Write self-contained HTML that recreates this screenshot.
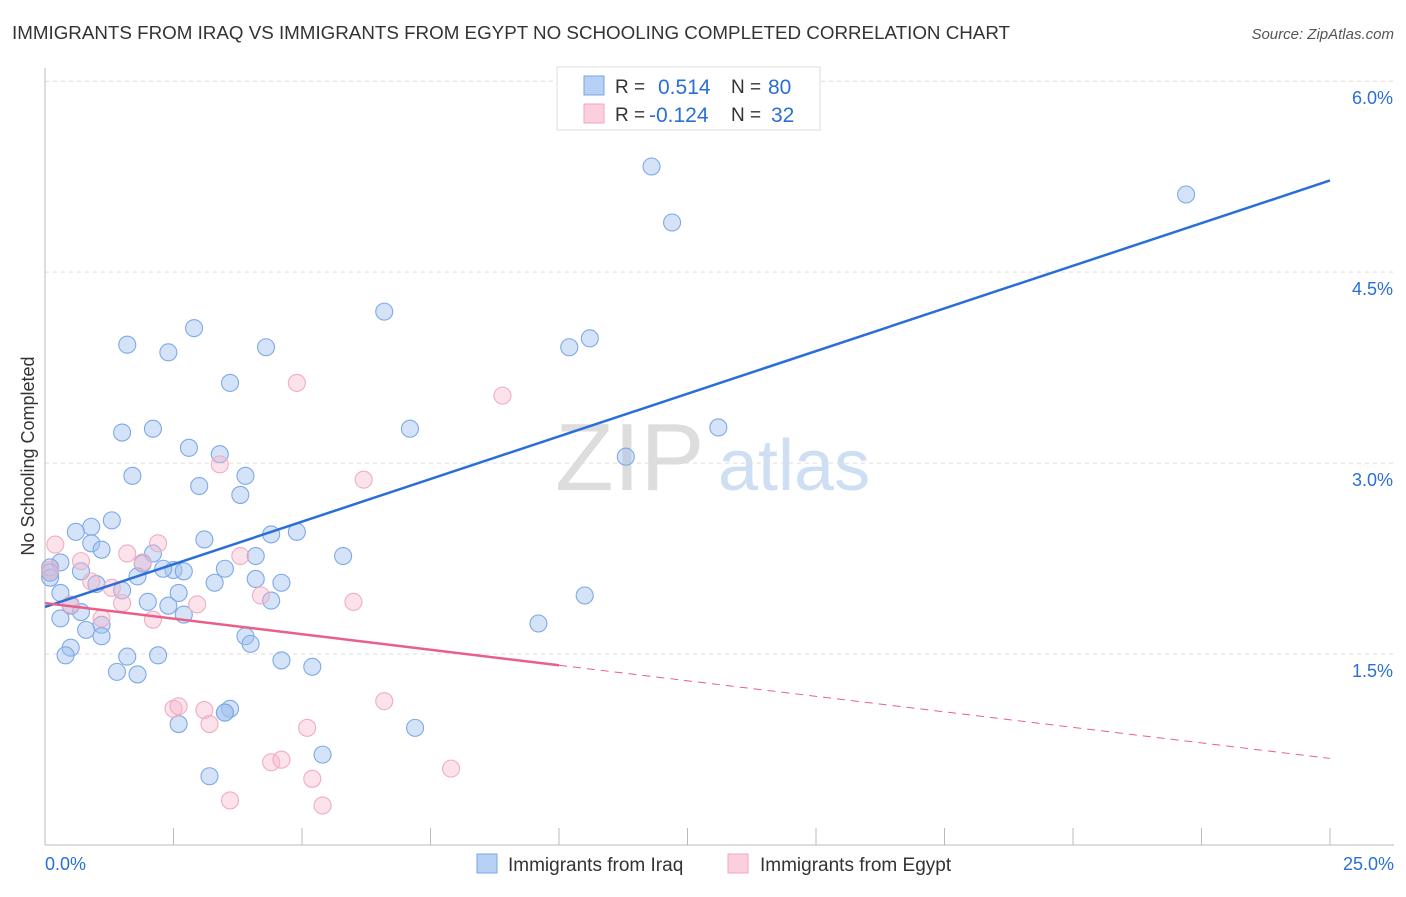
<!DOCTYPE html>
<html><head><meta charset="utf-8"><style>
body{margin:0;background:#fff;font-family:"Liberation Sans",sans-serif;}
svg text{font-family:"Liberation Sans",sans-serif;}
</style></head><body>
<svg id="c" width="1406" height="892">
<text x="12" y="39" font-size="18" fill="#333" textLength="998" lengthAdjust="spacingAndGlyphs">IMMIGRANTS FROM IRAQ VS IMMIGRANTS FROM EGYPT NO SCHOOLING COMPLETED CORRELATION CHART</text>
<text x="1394" y="39" font-size="15" fill="#555" font-style="italic" text-anchor="end">Source: ZipAtlas.com</text>
<text x="0" y="0" transform="translate(34,456) rotate(-90)" font-size="18" fill="#333" text-anchor="middle">No Schooling Completed</text>
<text x="555" y="490" font-size="96" fill="#ddd" font-family="Liberation Serif">ZIP</text>
<text x="718" y="490" font-size="72" fill="#cfdff3">atlas</text>
<g id="grid"></g><g id="axes"></g><g id="pts"></g><g id="lines"></g>
<g>
<rect x="557" y="67" width="263" height="63" fill="#fff" stroke="#ddd"/>
<rect x="584" y="76" width="20" height="19" fill="#b7d0f5" stroke="#7aa6e6"/>
<rect x="584" y="104" width="20" height="19" fill="#fbd0dc" stroke="#f0a6bc"/>
<text x="615" y="93" font-size="19" fill="#333">R =</text>
<text x="658" y="94" font-size="21" fill="#2a6fd6">0.514</text>
<text x="731" y="93" font-size="19" fill="#333">N =</text>
<text x="768" y="94" font-size="21" fill="#2a6fd6">80</text>
<text x="615" y="121" font-size="19" fill="#333">R =</text>
<text x="649" y="122" font-size="21" fill="#2a6fd6">-0.124</text>
<text x="731" y="121" font-size="19" fill="#333">N =</text>
<text x="771" y="122" font-size="21" fill="#2a6fd6">32</text>
</g>
<g>
<rect x="477" y="854" width="20" height="19" fill="#b7d0f5" stroke="#7aa6e6"/>
<text x="508" y="871" font-size="19" fill="#333">Immigrants from Iraq</text>
<rect x="728" y="854" width="20" height="19" fill="#fbd0dc" stroke="#f0a6bc"/>
<text x="760" y="871" font-size="19" fill="#333">Immigrants from Egypt</text>
</g>
</svg>
<script>
const yTicks=[1.5,3.0,4.5,6.0];
const xTickLabels=["0.0%","25.0%"];
const iraqX=[11.8,22.2,12.2,6.6,2.9,10.6,1.6,4.3,10.2,2.4,3.6,7.1,13.1,1.5,2.1,2.8,3.4,11.3,1.7,3.9,3.0,3.8,1.3,0.9,0.6,4.4,4.9,3.1,0.9,1.1,2.1,4.1,5.8,0.3,1.9,0.1,2.5,2.3,2.7,3.5,0.7,1.8,0.1,3.3,4.1,4.6,1.0,1.5,2.6,0.3,4.4,2.0,2.4,0.5,0.7,2.7,0.3,1.1,9.6,0.8,1.1,3.9,4.0,0.5,0.4,1.6,2.2,4.6,5.2,1.4,1.8,3.6,3.5,2.6,7.2,5.4,3.2,10.5,0.1,3.5];
const iraqY=[5.33,5.11,4.89,4.19,4.06,3.98,3.93,3.91,3.91,3.87,3.63,3.27,3.28,3.24,3.27,3.12,3.07,3.05,2.90,2.90,2.82,2.75,2.55,2.50,2.46,2.44,2.46,2.40,2.37,2.32,2.29,2.27,2.27,2.22,2.21,2.18,2.16,2.17,2.15,2.17,2.15,2.11,2.10,2.06,2.09,2.06,2.05,2.00,1.98,1.98,1.92,1.91,1.88,1.88,1.83,1.81,1.78,1.73,1.74,1.69,1.64,1.64,1.58,1.55,1.49,1.48,1.49,1.45,1.40,1.36,1.34,1.07,1.04,0.95,0.92,0.71,0.54,1.96,2.14,1.04];
const egyptX=[4.9,8.9,3.4,6.2,0.2,2.2,1.6,3.8,0.7,1.9,0.9,1.3,4.2,6.0,2.96,1.5,0.5,1.1,2.1,0.1,6.6,2.5,2.6,3.1,3.2,5.1,4.4,4.6,7.9,5.2,3.6,5.4];
const egyptY=[3.63,3.53,2.99,2.87,2.36,2.37,2.29,2.27,2.23,2.22,2.07,2.02,1.96,1.91,1.89,1.90,1.89,1.78,1.77,2.16,1.13,1.07,1.09,1.06,0.95,0.92,0.65,0.67,0.60,0.52,0.35,0.31];
const iraqTrend=[1.87,5.22];
const egyptTrend=[1.90,0.68];
const egyptSolidEnd=10.0;
const X=v=>45+v/25*1285, Y=v=>845-v*127.3;
const NS="http://www.w3.org/2000/svg";
function mk(t,a,p){const e=document.createElementNS(NS,t);for(const k in a)e.setAttribute(k,a[k]);p.appendChild(e);return e;}
const grid=document.getElementById('grid'),axes=document.getElementById('axes'),pts=document.getElementById('pts'),lines=document.getElementById('lines');
yTicks.forEach(t=>{
 const g=mk('line',{x1:45,x2:1394,y1:Y(t),y2:Y(t),stroke:'#ddd','stroke-dasharray':'4,4'},grid);
 
 
 const l=mk('text',{x:1393,y:Y(t)+23,'font-size':18,fill:'#2a6fd6','text-anchor':'end'},axes);
 l.textContent=t.toFixed(1)+'%';
 
 
});
const ax=mk('line',{x1:45,x2:45,y1:68,y2:845,stroke:'#bbb'},axes);


const bx=mk('line',{x1:45,x2:1394,y1:845,y2:845,stroke:'#bbb'},axes);


for(let i=0;i<=10;i++){const v=i*2.5;const tk=mk('line',{x1:X(v),x2:X(v),y1:828,y2:845,stroke:'#bbb'},axes);
 
 }
const xl0=mk('text',{x:45,y:870,'font-size':18,fill:'#2a6fd6'},axes);xl0.textContent=xTickLabels[0];


const xl1=mk('text',{x:1394,y:870,'font-size':18,fill:'#2a6fd6','text-anchor':'end'},axes);xl1.textContent=xTickLabels[1];


iraqX.forEach((v,i)=>{const c=mk('circle',{cx:X(v),cy:Y(iraqY[i]),r:8.5,fill:'rgba(160,192,240,0.45)',stroke:'#7ea9e6','stroke-width':1.1},pts);
 
 });
egyptX.forEach((v,i)=>{const c=mk('circle',{cx:X(v),cy:Y(egyptY[i]),r:8.5,fill:'rgba(248,182,202,0.4)',stroke:'#f0adc1','stroke-width':1.1},pts);
 
 });
const bl=mk('line',{x1:X(0),y1:Y(iraqTrend[0]),x2:X(25),y2:Y(iraqTrend[1]),stroke:'#2a6fd6','stroke-width':2.5},lines);


const ef=v=>egyptTrend[0]+(egyptTrend[1]-egyptTrend[0])*v/25;
const pl=mk('line',{x1:X(0),y1:Y(ef(0)),x2:X(egyptSolidEnd),y2:Y(ef(egyptSolidEnd)),stroke:'#e8608a','stroke-width':2.5},lines);


const pd=mk('line',{x1:X(egyptSolidEnd),y1:Y(ef(egyptSolidEnd)),x2:X(25),y2:Y(ef(25)),stroke:'#e8608a','stroke-width':1,'stroke-dasharray':'8,6'},lines);


</script>
</body></html>
